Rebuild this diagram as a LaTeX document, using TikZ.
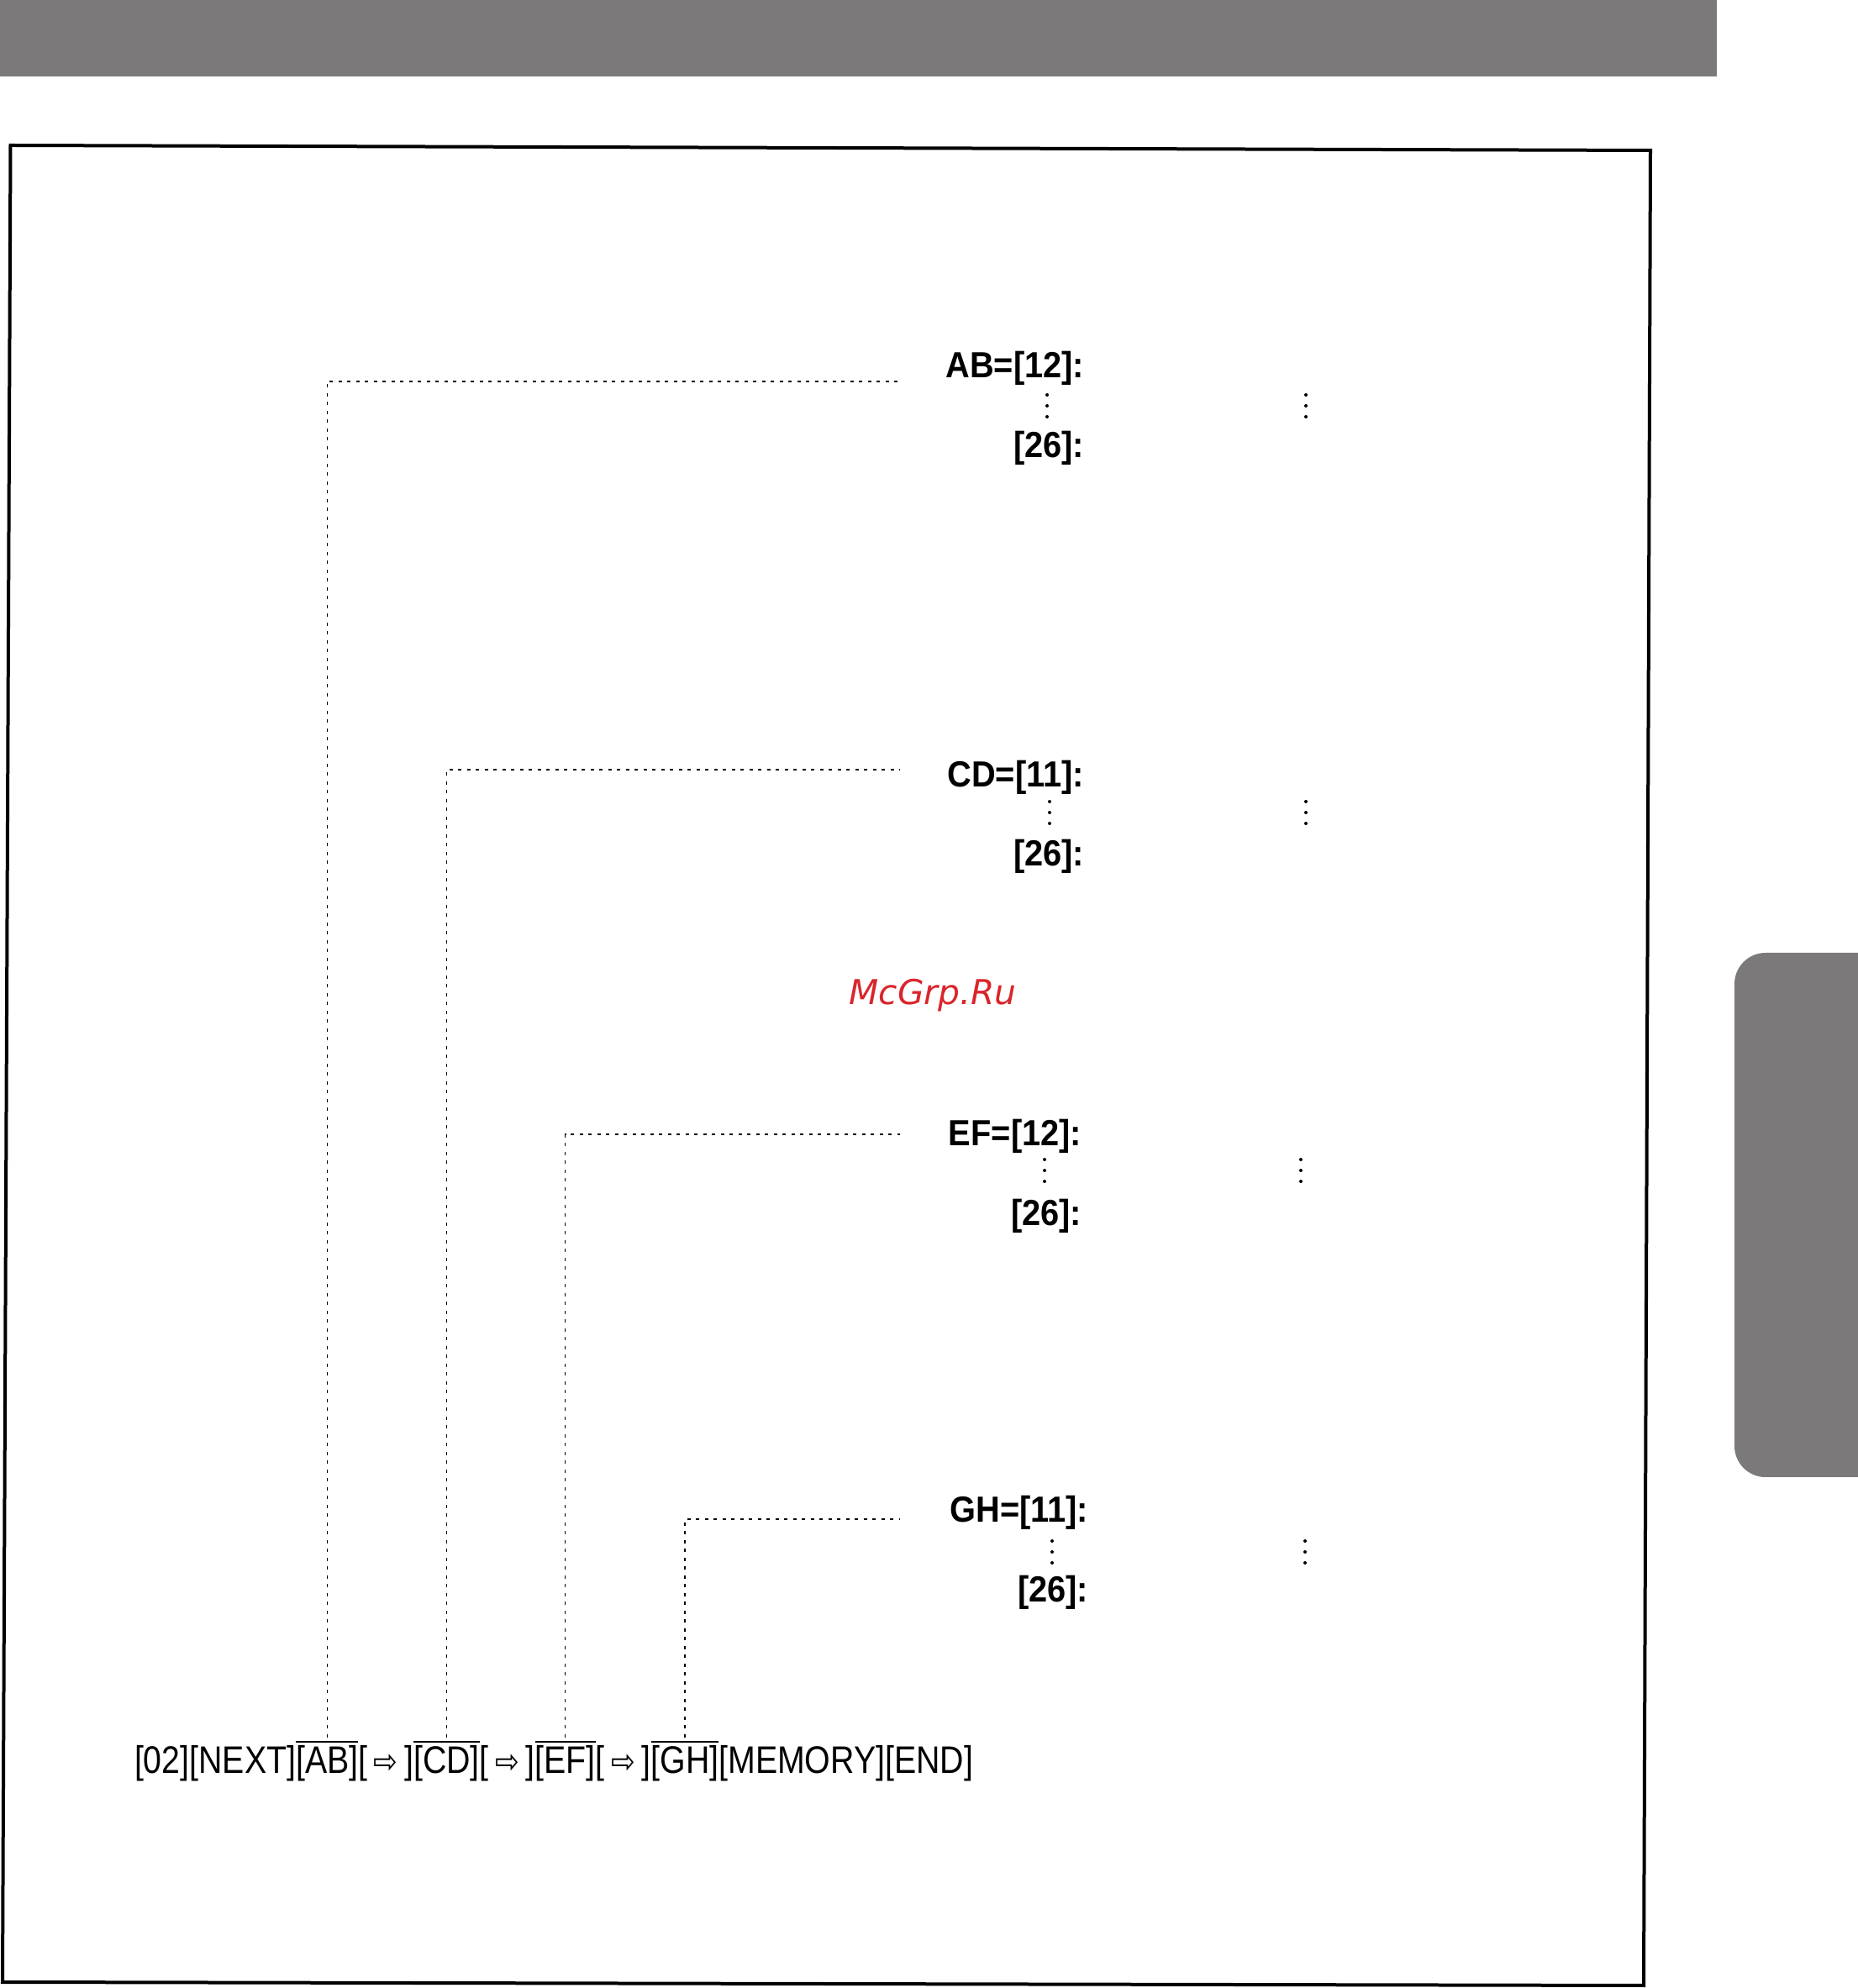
\documentclass[tikz,border=0pt]{standalone}
\usepackage{fontspec}
\setmainfont{Liberation Sans}
\newfontfamily\keyfont[FakeStretch=0.86]{Liberation Sans}
\newfontfamily\codefont[FakeStretch=0.92]{Liberation Sans}
\newfontfamily\arrfont[FakeStretch=0.85]{DejaVu Sans}
\newfontfamily\markfont{DejaVu Sans}
\usetikzlibrary{positioning}
\definecolor{tabgray}{RGB}{124,121,122}
\definecolor{markred}{RGB}{218,37,43}
\newcommand{\keyarrow}{[\,{\arrfont\fontsize{11.5}{13}\selectfont\char"21E8}\,]}
\tikzset{
  key/.style={inner sep=0pt,outer sep=0pt,font=\keyfont\fontsize{13}{15}\selectfont},
  code/.style={inner sep=0pt,outer sep=0pt,anchor=base east,font=\codefont\bfseries\fontsize{12.3}{14}\selectfont},
  lead/.style={line width=0.015cm,dash pattern=on 0.04cm off 0.065cm},
  keybar/.style={line width=0.02cm},
}
\begin{document}
\begin{tikzpicture}
\useasboundingbox (0,0) rectangle (22.11,23.66);
% page decoration
\fill[tabgray] (0,23.66) rectangle (20.43,22.75);
\fill[tabgray,rounded corners=0.37cm] (22.5,12.32) -- (20.64,12.32) -- (20.64,6.08) -- (22.5,6.08);
\draw[line width=0.04cm] (0.125,21.93) -- (19.64,21.87) -- (19.56,0.03) -- (0.03,0.07) -- cycle;
% key sequence
\node[key,anchor=base west] (k02) at (1.60,2.55) {[02][NEXT]};
\node[key,base right=0pt of k02] (kab) {[AB]};
\node[key,base right=0pt of kab] (ar1) {\keyarrow};
\node[key,base right=0pt of ar1] (kcd) {[CD]};
\node[key,base right=0pt of kcd] (ar2) {\keyarrow};
\node[key,base right=0pt of ar2] (kef) {[EF]};
\node[key,base right=0pt of kef] (ar3) {\keyarrow};
\node[key,base right=0pt of ar3] (kgh) {[GH]};
\node[key,base right=0pt of kgh] (kend) {[MEMORY][END]};
\foreach \k in {kab,kcd,kef,kgh}
  \draw[keybar] ([yshift=0.5mm]\k.north west) -- ([yshift=0.5mm]\k.north east);
% codes
\node[code] (ab) at (12.90,19.16) {AB=[12]:};
\node[code] (ab26) at (12.90,18.21) {[26]:};
\node[code] (cd) at (12.90,14.29) {CD=[11]:};
\node[code] (cd26) at (12.90,13.35) {[26]:};
\node[code] (ef) at (12.87,10.02) {EF=[12]:};
\node[code] (ef26) at (12.87,9.07) {[26]:};
\node[code] (gh) at (12.95,5.54) {GH=[11]:};
\node[code] (gh26) at (12.95,4.59) {[26]:};
\foreach \x/\y in {12.46/18.83,15.54/18.83,12.49/13.99,15.54/13.99,12.43/9.73,15.48/9.73,12.52/5.19,15.53/5.19}
  \foreach \d in {-1,0,1}
    \fill (\x,{\y+\d*0.13}) circle (0.02);
% leaders
\coordinate (ab-end) at (10.71,19.12);
\coordinate (cd-end) at (10.71,14.50);
\coordinate (ef-end) at (10.71,10.16);
\coordinate (gh-end) at (10.71,5.58);
\draw[lead] ([yshift=1mm]kab.north) |- (ab-end);
\draw[lead] ([yshift=1mm]kcd.north) |- (cd-end);
\draw[lead] ([yshift=1mm]kef.north) |- (ef-end);
\draw[lead] ([yshift=1mm]kgh.north) |- (gh-end);
% watermark
\node[text=markred,font=\markfont\itshape\fontsize{11.6}{14}\selectfont] (mark) at (11.10,11.81) {McGrp.Ru};
\end{tikzpicture}
\end{document}
